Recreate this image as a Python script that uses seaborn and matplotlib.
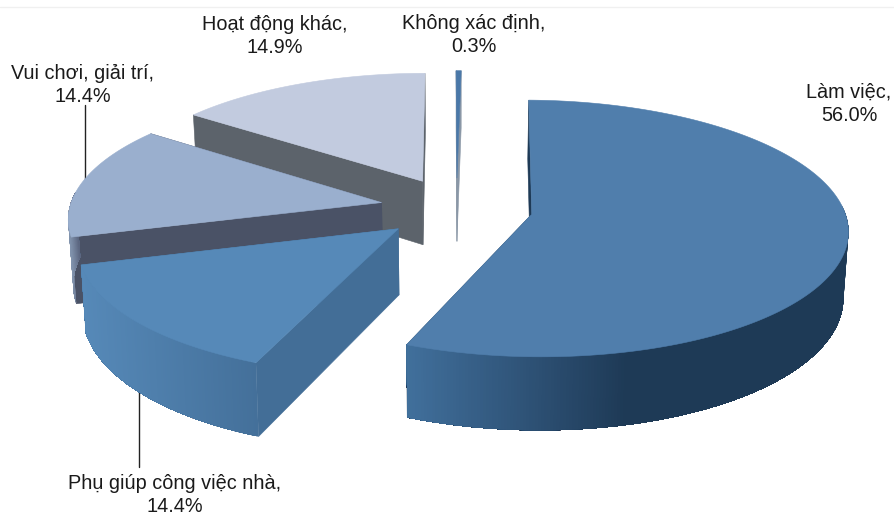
import numpy as np
import matplotlib
matplotlib.use("Agg")
import matplotlib.pyplot as plt
import seaborn as sns

# Data
labels = ["Làm việc,\n56.0%", "Phụ giúp công việc nhà,\n14.4%", "Vui chơi, giải trí,\n14.4%",
          "Hoạt động khác,\n14.9%", "Không xác định,\n0.3%"]
values = [56.0, 14.4, 14.4, 14.9, 0.3]

# Colours
top_colors = ["#507eac", "#5689b8", "#9aafce", "#c2cbdf", "#4a78a8"]
cut_colors = ["#1e3a56", "#436e97", "#4a5266", "#5c636b", "#8a97a6"]
rim_colors = [["#41709c", "#30557a", "#1e3a56", "#1e3a56", "#1e3a56"],
              ["#5689b8", "#44709a"],
              ["#8294ae", "#5b6680"],
              ["#8a93a3", "#5c636b"],
              ["#4a78a8", "#4a78a8"]]

# Fake 3D camera, all in pixels of the 895x516 picture
cx, cy = 456.5, 208
rx, ry = 312, 125.4
persp = 0.11
thick = 65
shrink = 0.987
explode = 0.245
first_angle = np.radians(0.9)

sns.set_theme(style="white")
plt.rcParams["font.family"] = ["Liberation Sans", "DejaVu Sans"]

fig, ax = plt.subplots(figsize=(8.95, 5.16), dpi=100)
fig.subplots_adjust(0, 0, 1, 1)
ax.set_xlim(0, 895)
ax.set_ylim(516, 0)
ax.axis("off")


def project(u, v, low=False):
    w = 1 + persp * v
    x = rx * u / w
    y = -ry * v / w
    if low:
        x = x * shrink
        y = y + thick / w
    return cx + x, cy + y


def paint(xs, ys, color, z, lw=0.4):
    ax.fill(xs, ys, facecolor=color, edgecolor=color, linewidth=lw, zorder=z)


angles = first_angle + np.cumsum([0] + values) / sum(values) * 2 * np.pi

# leader lines go under the slices
ax.plot([85, 85], [105, 182], color="#222222", lw=1, zorder=1)
ax.plot([139, 139], [390, 467], color="#222222", lw=1, zorder=1)
ax.axhline(7, color="#f0f0f0", lw=1, zorder=0)

# back slices first, the big one last
for i in [4, 3, 2, 1, 0]:
    start, end = angles[i], angles[i + 1]
    mid = (start + end) / 2
    ou = explode * np.sin(mid)
    ov = explode * np.cos(mid)
    z = 10 + (4 - i) * 5

    # the two cut faces
    for a in [start, end]:
        x1, y1 = project(np.array([ou, ou + np.sin(a)]), np.array([ov, ov + np.cos(a)]))
        x2, y2 = project(np.array([ou + np.sin(a), ou]), np.array([ov + np.cos(a), ov]), low=True)
        paint(np.r_[x1, x2], np.r_[y1, y2], cut_colors[i], z)

    # outer wall, only the part facing us, in overlapping strips for the gradient
    edge = np.linspace(start, end, 400)
    edge = edge[np.cos(edge) < 0.08]
    if len(edge) > 2:
        shades = sns.blend_palette(rim_colors[i], 256)
        ex, _ = project(ou + np.sin(edge), ov + np.cos(edge))
        frac = (ex - ex.min()) / (ex.max() - ex.min())
        for k in range(len(edge) - 1):
            t = edge[k:]
            x1, y1 = project(ou + np.sin(t), ov + np.cos(t))
            x2, y2 = project(ou + np.sin(t[::-1]), ov + np.cos(t[::-1]), low=True)
            paint(np.r_[x1, x2], np.r_[y1, y2], shades[int(frac[k] * 255)], z + 1, lw=0)

    # top face
    t = np.linspace(start, end, 200)
    xs, ys = project(np.r_[ou, ou + np.sin(t)], np.r_[ov, ov + np.cos(t)])
    paint(xs, ys, top_colors[i], z + 2)

# labels
label_pos = [(849, 104), (175, 495), (83, 85), (275, 36), (474, 35)]
for text, (x, y) in zip(labels, label_pos):
    ax.text(x, y, text, ha="center", va="center", fontsize=14.3, color="#1a1a1a",
            linespacing=1.28, zorder=50)

fig.savefig("out.png", dpi=100)
